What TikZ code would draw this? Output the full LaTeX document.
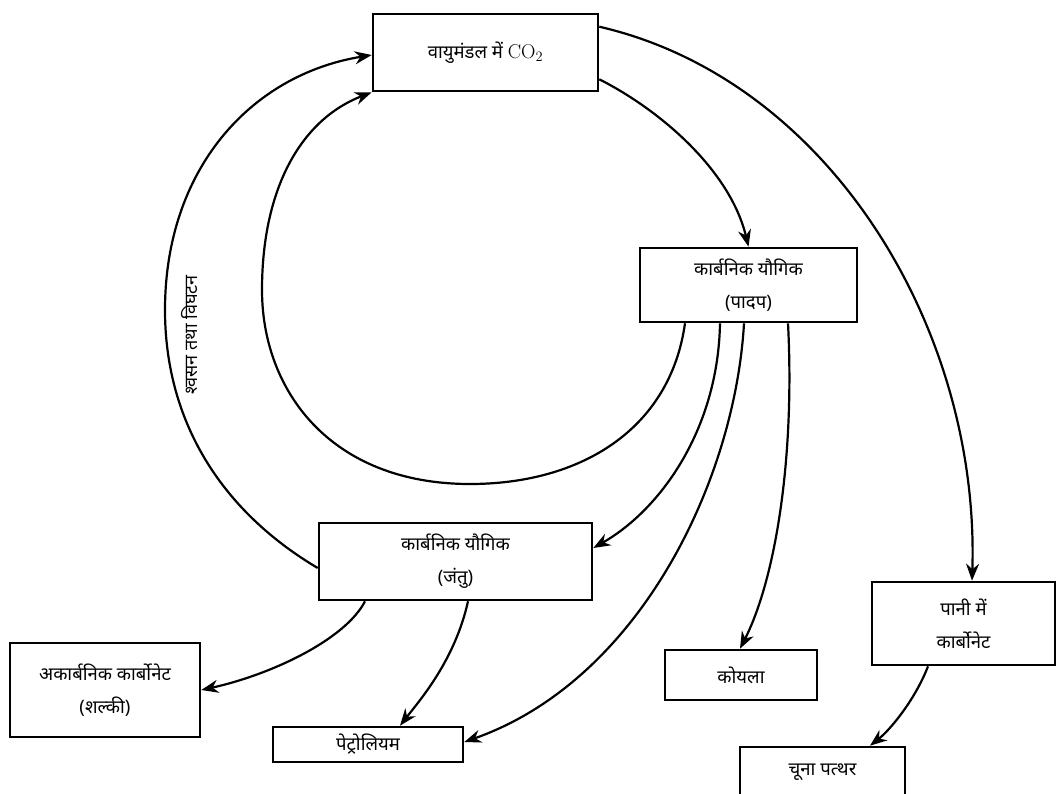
\documentclass[tikz,border=0pt]{standalone}
\usepackage{fontspec}
\newfontfamily\deva[Script=Devanagari]{Noto Sans}
\usetikzlibrary{arrows.meta}
\begin{document}
\begin{tikzpicture}[x=1pt,y=-1pt,
		box/.style={draw,line width=2.6pt,inner sep=0pt,align=center,
			font=\deva\fontsize{18.5}{33}\selectfont},
		flow/.style={line width=2.2pt,-{Stealth[length=17pt,width=13pt]}}]
				\useasboundingbox (0,0) rectangle (1056,794);
				% boxes
				\node[box,minimum width=225pt,minimum height=77pt] (co2) at (485.5,52.5) {वायुमंडल में \rmfamily\fontsize{20}{24}\selectfont CO$_2$};
				\node[box,minimum width=217pt,minimum height=74pt] (plant) at (748.5,285) {कार्बनिक यौगिक\\(पादप)};
				\node[box,minimum width=273pt,minimum height=77pt] (animal) at (455.5,561.5) {कार्बनिक यौगिक\\(जंतु)};
				\node[box,minimum width=190pt,minimum height=94pt] (inorg) at (105,690) {अकार्बनिक कार्बोनेट\\(शल्की)};
				\node[box,minimum width=190pt,minimum height=35pt] (petrol) at (368,744.5) {पेट्रोलियम};
				\node[box,minimum width=152pt,minimum height=50pt] (coal) at (741,675) {कोयला};
				\node[box,minimum width=183pt,minimum height=83pt] (water) at (963.5,623.5) {पानी में\\कार्बोनेट};
				\node[box,minimum width=165pt,minimum height=50pt] (lime) at (822.5,772) {चूना पत्थर};
				% arrows out of the atmosphere
				\draw[flow] ([yshift=-14pt]co2.north east) .. controls (830,80) and (980,330) .. ([xshift=8.5pt]water.north);
				\draw[flow] ([yshift=13pt]co2.south east) .. controls (660,110) and (730,170) .. (plant.north);
				% back to the atmosphere
				\draw[flow] ([xshift=-63.5pt]plant.south) .. controls (670,430) and (580,484) .. (470,484)
					.. controls (330,484) and (262,390) .. (262,290)
					.. controls (262,190) and (300,120) .. (co2.south west);
				\draw[flow] ([yshift=-6.5pt]animal.west) .. controls (220,510) and (165,420) .. (165,310)
					.. controls (165,170) and (250,75) .. ([yshift=-2.5pt]co2.west);
				\node[font=\deva\fontsize{18}{20}\selectfont,rotate=90] (resp) at (190,335) {श्वसन तथा विघटन};
				% out of the plants
				\draw[flow] ([xshift=-28.5pt]plant.south) .. controls (718,430) and (660,510) .. ([yshift=13.5pt]animal.east);
				\draw[flow] ([xshift=-4.5pt]plant.south) .. controls (735,480) and (640,680) .. ([yshift=2.5pt]petrol.east);
				\draw[flow] ([xshift=39.5pt]plant.south) .. controls (795,460) and (775,580) .. ([xshift=-1pt]coal.north);
				% out of the animals
				\draw[flow] ([xshift=-90.5pt]animal.south) .. controls (345,640) and (270,675) .. (inorg.east);
				\draw[flow] ([xshift=12.5pt]animal.south) .. controls (455,660) and (420,700) .. ([xshift=32pt]petrol.north);
				% water to limestone
				\draw[flow] ([xshift=-35.5pt]water.south) .. controls (915,700) and (890,730) .. ([xshift=47.5pt]lime.north);
			\end{tikzpicture}
\end{document}
